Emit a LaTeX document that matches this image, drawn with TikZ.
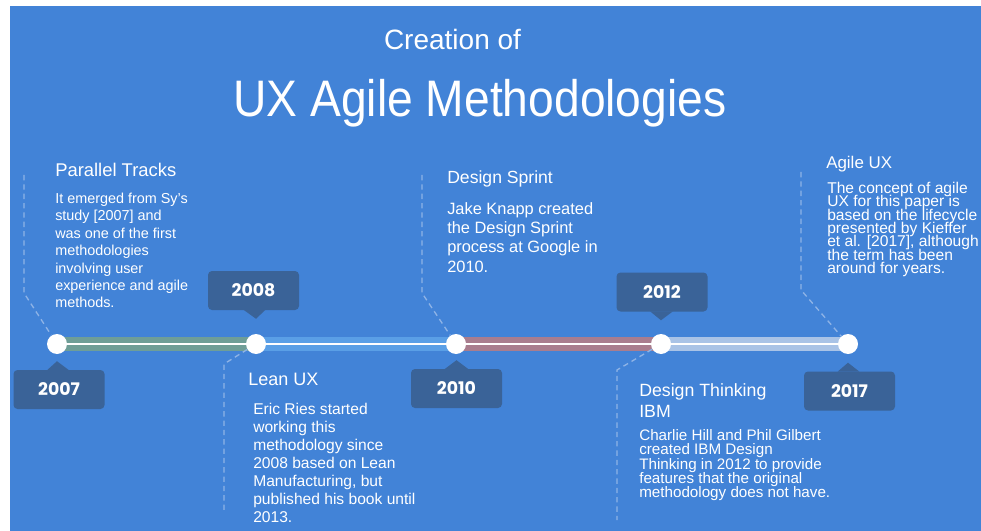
\documentclass[tikz,border=0pt]{standalone}
\usepackage{fontspec}
\usepackage{xcolor}
\setmainfont{Liberation Sans}
\newfontfamily\titular[FakeStretch=0.9]{Liberation Sans}
\newfontfamily\fuenteanio{Poppins}
\usetikzlibrary{calc}

\definecolor{fondo}{HTML}{4283D7}
\definecolor{cajaazul}{HTML}{3A6398}
\definecolor{guiaazul}{HTML}{8EB3E6}
\definecolor{verde}{HTML}{6F9E97}
\definecolor{celeste}{HTML}{5A9FE6}
\definecolor{malva}{HTML}{A97D8E}
\definecolor{palido}{HTML}{A9C3E6}

%lineas apretadas sin salto extra
\newcommand{\apretado}{\lineskiplimit=-20pt\relax}

\begin{document}
\begin{tikzpicture}[x=0.75pt, y=-0.75pt,
			 punto/.style={circle, fill=white, minimum size=15pt, inner sep=0pt},
			 tramo/.style={line width=10.5pt},
			 anio/.style={rectangle, rounded corners=3pt, fill=cajaazul, text=white, minimum width=68.25pt, minimum height=29.25pt, inner sep=0pt, font=\fuenteanio\bfseries\fontsize{13}{15}\selectfont},
			 pico/.style={fill=cajaazul},
			 titulo/.style={anchor=north west, inner sep=0pt, text=white, align=left},
			 texto/.style={anchor=north west, inner sep=0pt, text=white, align=left},
			 guia/.style={draw=guiaazul, line width=1pt, dash pattern=on 4pt off 3pt}
  		]

	%Fondo
		\useasboundingbox (0,0) rectangle (981,531);
		\fill[white] (0,0) rectangle (981,531);
		\fill[fondo] (10,6) rectangle (981,531);

	%Titulo
		\node[anchor=base, text=white, inner sep=0pt, font=\fontsize{21}{24}\selectfont] (tit1) at (452.5,50) {Creation of};
		\node[anchor=base, text=white, inner sep=0pt, font=\titular\fontsize{38.5}{44}\selectfont] (tit2) at (480,117) {UX Agile Methodologies};

	%Puntos de la linea de tiempo
		\coordinate (p07) at (57,344);
		\coordinate (p08) at (256,344);
		\coordinate (p10) at (456,344);
		\coordinate (p12) at (661,344);
		\coordinate (p17) at (848,344);
	%Tramos de colores
		\draw[tramo, verde] (p07) -- (p08);
		\draw[tramo, celeste] (p08) -- (p10);
		\draw[tramo, malva] (p10) -- (p12);
		\draw[tramo, palido] (p12) -- (p17);
		\draw[white, line width=1.5pt] (p07) -- (p17);
	%Nodos
		\node[punto] (n07) at (p07) {};
		\node[punto] (n08) at (p08) {};
		\node[punto] (n10) at (p10) {};
		\node[punto] (n12) at (p12) {};
		\node[punto] (n17) at (p17) {};

	%Guias punteadas
		\coordinate (g07a) at (24,175);
		\coordinate (g07b) at (24,293);
		\coordinate (g08a) at (224,364);
		\coordinate (g08b) at (224,513);
		\coordinate (g10a) at (422,175);
		\coordinate (g10b) at (422,293);
		\coordinate (g12a) at (617,370);
		\coordinate (g12b) at (617,520);
		\coordinate (g17a) at (801,172);
		\coordinate (g17b) at (801,290);
		\draw[guia] (g07a) -- (g07b) -- (n07);
		\draw[guia] (n08) -- (g08a) -- (g08b);
		\draw[guia] (g10a) -- (g10b) -- (n10);
		\draw[guia] (n12) -- (g12a) -- (g12b);
		\draw[guia] (g17a) -- (g17b) -- (n17);

	%Cajas de los anios
		\node[anio] (a07) at (59,389.5) {2007};
		\node[anio] (a08) at (253.5,290.5) {2008};
		\node[anio] (a10) at (456.5,388.5) {2010};
		\node[anio] (a12) at (662,292) {2012};
		\node[anio] (a17) at (849.5,391) {2017};
		\fill[pico] ($(a07.north)+(-12,0.5)$) -- ($(a07.north)+(-2,-8.5)$) -- ($(a07.north)+(10,0.5)$) -- cycle;
		\fill[pico] ($(a08.south)+(-10,-0.5)$) -- ($(a08.south)+(2.5,8.5)$) -- ($(a08.south)+(12,-0.5)$) -- cycle;
		\fill[pico] ($(a10.north)+(-12,0.5)$) -- ($(a10.north)+(0,-8.5)$) -- ($(a10.north)+(12,0.5)$) -- cycle;
		\fill[pico] ($(a12.south)+(-12,-0.5)$) -- ($(a12.south)+(-1,8.5)$) -- ($(a12.south)+(11,-0.5)$) -- cycle;
		\fill[pico] ($(a17.north)+(-12,0.5)$) -- ($(a17.north)+(-1.5,-8.5)$) -- ($(a17.north)+(10,0.5)$) -- cycle;

	%Textos de 2007
		\node[titulo, font=\fontsize{13.8}{16}\selectfont] (t07) at (55,163) {Parallel Tracks};
		\node[texto, font=\fontsize{10.8}{13.05}\selectfont] (d07) at (55,192.7) {It emerged from Sy's\\study [2007] and\\was one of the first\\methodologies\\involving user\\experience and agile\\methods.};
	%Textos de 2008
		\node[titulo, font=\fontsize{13.5}{16}\selectfont] (t08) at (248,372.4) {Lean UX};
		\node[texto, font=\fontsize{11.7}{13.4}\selectfont] (d08) at (253,403.3) {Eric Ries started\\working this\\methodology since\\2008 based on Lean\\Manufacturing, but\\published his book until\\2013.};
	%Textos de 2010
		\node[titulo, font=\fontsize{13.2}{16}\selectfont] (t10) at (447,170.5) {Design Sprint};
		\node[texto, font=\fontsize{12.3}{14.5}\selectfont] (d10) at (447,202) {Jake Knapp created\\the Design Sprint\\process at Google in\\2010.};
	%Textos de 2012
		\node[titulo, font=\fontsize{13.3}{15.75}\selectfont] (t12) at (639,383.5) {Design Thinking\\IBM};
		\node[texto, font=\fontsize{11.4}{10.65}\selectfont\apretado] (d12) at (639,429.4) {Charlie Hill and Phil Gilbert\\created IBM Design\\Thinking in 2012 to provide\\features that the original\\methodology does not have.};
	%Textos de 2017
		\node[titulo, font=\fontsize{12.7}{15}\selectfont] (t17) at (826,155.7) {Agile UX};
		\node[texto, font=\fontsize{11.7}{10}\selectfont\apretado] (d17) at (827,182) {The concept of agile\\UX for this paper is\\based on the lifecycle\\presented by Kieffer\\et al. [2017], although\\the term has been\\around for years.};
	\end{tikzpicture}
\end{document}
